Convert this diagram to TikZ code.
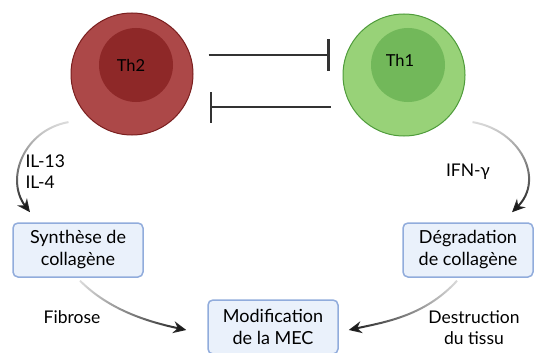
\documentclass[tikz,border=0pt]{standalone}
\usepackage{fontspec}
\setmainfont{Lato}
\usetikzlibrary{arrows.meta,fadings}

\definecolor{th2fuera}{RGB}{172,72,72}
\definecolor{th2borde}{RGB}{122,30,30}
\definecolor{th2dentro}{RGB}{142,40,40}
\definecolor{th1fuera}{RGB}{152,210,120}
\definecolor{th1borde}{RGB}{78,155,58}
\definecolor{th1dentro}{RGB}{114,184,90}
\definecolor{cajafondo}{RGB}{234,241,251}
\definecolor{cajaborde}{RGB}{145,172,220}

\tikzfading[name=desdearriba,top color=transparent!85,middle color=transparent!0,bottom color=transparent!0]
\tikzfading[name=desdeizq,left color=transparent!85,middle color=transparent!0,right color=transparent!0]
\tikzfading[name=desdeder,right color=transparent!85,middle color=transparent!0,left color=transparent!0]

\begin{document}
\begin{tikzpicture}[x=1pt,y=-1pt,
    celula/.style={circle,line width=1pt,inner sep=0pt,minimum size=122pt},
    nucleo/.style={circle,inner sep=0pt,minimum size=74pt},
    caja/.style={draw=cajaborde,fill=cajafondo,rounded corners=5pt,line width=1.5pt,
        minimum width=130pt,minimum height=54pt,align=center,
        font=\fontsize{18}{22}\selectfont},
    inhibe/.style={line width=2.2pt,draw=black!80},
    flecha/.style={line width=2pt,draw=black!90,-{Stealth[length=13pt,width=12pt]}},
    etiqueta/.style={font=\fontsize{17.5}{21}\selectfont,align=left}]

    \useasboundingbox (0,0) rectangle (535,353);

    % cellules
    \node[celula,draw=th2borde,fill=th2fuera] (th2) at (132,74) {};
    \node[nucleo,fill=th2dentro,label={[font=\fontsize{16.5}{16}\selectfont,xshift=-5pt]center:Th2}] (th2core) at (136,65) {};
    \node[celula,draw=th1borde,fill=th1fuera] (th1) at (404,75) {};
    \node[nucleo,fill=th1dentro,label={[font=\fontsize{16.5}{16}\selectfont,xshift=-8pt,yshift=5pt]center:Th1}] (th1core) at (408,65) {};

    % inhibition
    \draw[inhibe,shorten <=15pt,shorten >=13pt,-{Bar[width=31pt]}] (th2.east |- 0,55) -- (th1.west |- 0,55);
    \draw[inhibe,shorten <=12pt,shorten >=16pt,-{Bar[width=31pt]}] (th1.west |- 0,107) -- (th2.east |- 0,107);

    % boites
    \node[caja] (synthese) at (78,250) {Synthèse de\\collagène};
    \node[caja] (degradation) at (468,250) {Dégradation\\de collagène};
    \node[caja] (mec) at (273,327) {Modification\\de la MEC};

    % fleches
    \draw[flecha,path fading=desdearriba] ([xshift=-24pt,yshift=-1pt]th2.230)
        .. controls +(-45,8) and +(-25,-33) .. ([xshift=-48pt,yshift=10pt]synthese.north);
    \draw[flecha,path fading=desdearriba] ([xshift=29pt]th1.310)
        .. controls +(48,8) and +(33,-33) .. ([xshift=44pt,yshift=10pt]degradation.north);
    \draw[flecha,path fading=desdeizq] ([xshift=2pt,yshift=-3pt]synthese.south)
        .. controls +(30,30) and +(-37,-8) .. ([xshift=-21pt,yshift=-3pt]mec.west);
    \draw[flecha,path fading=desdeder] ([xshift=-11pt,yshift=-3pt]degradation.south)
        .. controls +(-32,35) and +(37,-8) .. ([xshift=10pt,yshift=-3pt]mec.east);

    % etiquettes
    \node[etiqueta,anchor=west] (il) at (22,172) {IL-13\\IL-4};
    \node[etiqueta] (ifn) at (468,172) {IFN-γ};
    \node[etiqueta] (fibrose) at (72,317) {Fibrose};
    \node[etiqueta,align=center] (destruction) at (474,328) {Destruction\\du tissu};

\end{tikzpicture}
\end{document}
